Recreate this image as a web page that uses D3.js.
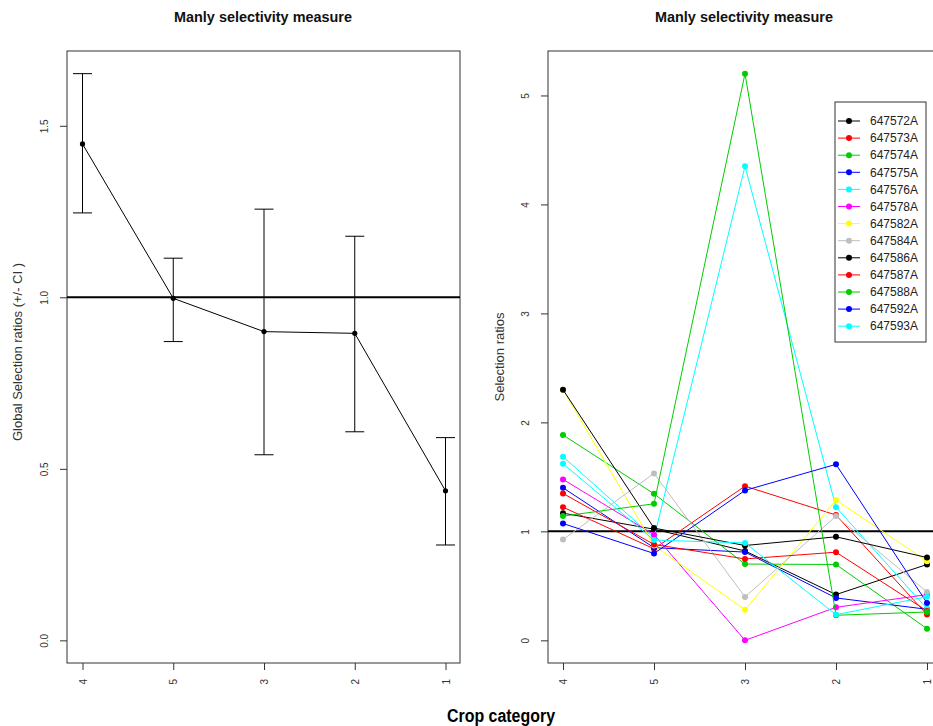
<!DOCTYPE html>
<html>
<head>
<meta charset="utf-8">
<script src="https://cdn.jsdelivr.net/npm/d3@7"></script>
<style>
  body { margin: 0; background: #fff; }
  svg { display: block; }
  text { font-family: "Liberation Sans", Arial, sans-serif; }
</style>
</head>
<body>
<svg id="chart" width="933" height="726"></svg>
<script>
// crop categories, in plotting order
const categories = ["4", "5", "3", "2", "1"];

// left panel: global selection ratios with CI
const globalMean = [1.447, 0.997, 0.900, 0.895, 0.436];
const globalLower = [1.246, 0.871, 0.541, 0.608, 0.278];
const globalUpper = [1.652, 1.114, 1.257, 1.178, 0.591];
const leftTicks = [0, 0.5, 1.0, 1.5];

// right panel: selection ratio per animal
const animals = ["647572A", "647573A", "647574A", "647575A", "647576A", "647578A", "647582A",
  "647584A", "647586A", "647587A", "647588A", "647592A", "647593A"];
const animalColors = ["#000000", "#ff0000", "#00cd00", "#0000ff", "#00ffff", "#ff00ff", "#ffff00",
  "#bebebe", "#000000", "#ff0000", "#00cd00", "#0000ff", "#00ffff"];
const s647572A = [1.167, 1.02, 0.82, 0.42, 0.696];
const s647573A = [1.222, 0.84, 1.415, 1.15, 0.236];
const s647574A = [1.884, 1.345, 0.70, 0.696, 0.107];
const s647575A = [1.40, 0.85, 0.81, 0.389, 0.285];
const s647576A = [1.685, 0.94, 4.35, 1.222, 0.29];
const s647578A = [1.477, 0.97, 0.0, 0.303, 0.42];
const s647582A = [2.30, 0.87, 0.28, 1.287, 0.726];
const s647584A = [0.925, 1.532, 0.398, 1.14, 0.444];
const s647586A = [2.30, 1.03, 0.87, 0.95, 0.76];
const s647587A = [1.348, 0.88, 0.747, 0.809, 0.27];
const s647588A = [1.14, 1.253, 5.2, 0.23, 0.26];
const s647592A = [1.072, 0.797, 1.376, 1.615, 0.343];
const s647593A = [1.62, 0.92, 0.894, 0.236, 0.40];
const rightTicks = [0, 1, 2, 3, 4, 5];

const seriesValues = [s647572A, s647573A, s647574A, s647575A, s647576A, s647578A, s647582A,
  s647584A, s647586A, s647587A, s647588A, s647592A, s647593A];

const svg = d3.select("#chart");
const plotTop = 51, plotBottom = 663;

function styleAxis(g) {
  g.select(".domain").remove();
  g.selectAll(".tick line").attr("stroke", "#333");
  g.selectAll(".tick text").attr("fill", "#333").attr("font-size", 10);
}

// ---------- left panel ----------
const lx = d3.scalePoint().domain(categories).range([82.5, 445.5]);
const ly = d3.scaleLinear().domain([-0.066, 1.718]).range([plotBottom, plotTop]);

svg.append("rect")
  .attr("x", 67).attr("y", plotTop).attr("width", 393).attr("height", plotBottom - plotTop)
  .attr("fill", "none").attr("stroke", "#333").attr("stroke-width", 1);

svg.append("g")
  .attr("transform", `translate(0,${plotBottom})`)
  .call(d3.axisBottom(lx).tickSize(7).tickPadding(10))
  .call(styleAxis)
  .selectAll(".tick text")
  .attr("transform", "rotate(-90)")
  .attr("x", -16).attr("y", 0).attr("dy", "0.35em")
  .attr("text-anchor", "end");

svg.append("g")
  .attr("transform", "translate(67,0)")
  .call(d3.axisLeft(ly).tickValues(leftTicks).tickFormat(d3.format(".1f")).tickSize(7))
  .call(styleAxis)
  .selectAll(".tick text")
  .attr("transform", "rotate(-90)")
  .attr("x", 0).attr("y", -19).attr("dy", 0)
  .attr("text-anchor", "middle");

svg.append("line")
  .attr("x1", 67).attr("x2", 460)
  .attr("y1", ly(1)).attr("y2", ly(1))
  .attr("stroke", "#000").attr("stroke-width", 2);

svg.append("path")
  .datum(globalMean)
  .attr("fill", "none").attr("stroke", "#000").attr("stroke-width", 1)
  .attr("d", d3.line().x((d, i) => lx(categories[i])).y(d => ly(d)));

const ci = svg.append("g").selectAll("g")
  .data(categories)
  .enter().append("g");
ci.append("line")
  .attr("x1", d => lx(d)).attr("x2", d => lx(d))
  .attr("y1", (d, i) => ly(globalLower[i])).attr("y2", (d, i) => ly(globalUpper[i]))
  .attr("stroke", "#000");
ci.append("line")
  .attr("x1", d => lx(d) - 9.5).attr("x2", d => lx(d) + 9.5)
  .attr("y1", (d, i) => ly(globalUpper[i])).attr("y2", (d, i) => ly(globalUpper[i]))
  .attr("stroke", "#000");
ci.append("line")
  .attr("x1", d => lx(d) - 9.5).attr("x2", d => lx(d) + 9.5)
  .attr("y1", (d, i) => ly(globalLower[i])).attr("y2", (d, i) => ly(globalLower[i]))
  .attr("stroke", "#000");
ci.append("circle")
  .attr("cx", d => lx(d)).attr("cy", (d, i) => ly(globalMean[i]))
  .attr("r", 2.6).attr("fill", "#000");

svg.append("text")
  .attr("x", 263).attr("y", 22)
  .attr("text-anchor", "middle").attr("font-weight", "bold").attr("font-size", 15)
  .attr("textLength", 178).attr("lengthAdjust", "spacingAndGlyphs")
  .attr("fill", "#111")
  .text("Manly selectivity measure");

svg.append("text")
  .attr("transform", "translate(22,352) rotate(-90)")
  .attr("text-anchor", "middle").attr("font-size", 13).attr("fill", "#333")
  .text("Global Selection ratios (+/- CI )");

// ---------- right panel ----------
const rx = d3.scalePoint().domain(categories).range([563, 927]);
const ry = d3.scaleLinear().domain([-0.208, 5.408]).range([plotBottom, plotTop]);

svg.append("rect")
  .attr("x", 548).attr("y", plotTop).attr("width", 394).attr("height", plotBottom - plotTop)
  .attr("fill", "none").attr("stroke", "#333").attr("stroke-width", 1);

svg.append("g")
  .attr("transform", `translate(0,${plotBottom})`)
  .call(d3.axisBottom(rx).tickSize(7).tickPadding(10))
  .call(styleAxis)
  .selectAll(".tick text")
  .attr("transform", "rotate(-90)")
  .attr("x", -16).attr("y", 0).attr("dy", "0.35em")
  .attr("text-anchor", "end");

svg.append("g")
  .attr("transform", "translate(548,0)")
  .call(d3.axisLeft(ry).tickValues(rightTicks).tickFormat(d3.format("d")).tickSize(7))
  .call(styleAxis)
  .selectAll(".tick text")
  .attr("transform", "rotate(-90)")
  .attr("x", 0).attr("y", -19).attr("dy", 0)
  .attr("text-anchor", "middle");

svg.append("line")
  .attr("x1", 548).attr("x2", 942)
  .attr("y1", ry(1)).attr("y2", ry(1))
  .attr("stroke", "#000").attr("stroke-width", 2);

const line = d3.line().x((d, i) => rx(categories[i])).y(d => ry(d));

const series = svg.append("g").selectAll("g")
  .data(seriesValues)
  .enter().append("g");
series.append("path")
  .attr("d", d => line(d))
  .attr("fill", "none")
  .attr("stroke", (d, i) => animalColors[i])
  .attr("stroke-width", 1);
series.selectAll("circle")
  .data((d, i) => d.map((v, j) => ({ v, j, c: animalColors[i] })))
  .enter().append("circle")
  .attr("cx", d => rx(categories[d.j]))
  .attr("cy", d => ry(d.v))
  .attr("r", 3)
  .attr("fill", d => d.c);

svg.append("text")
  .attr("x", 744).attr("y", 22)
  .attr("text-anchor", "middle").attr("font-weight", "bold").attr("font-size", 15)
  .attr("textLength", 178).attr("lengthAdjust", "spacingAndGlyphs")
  .attr("fill", "#111")
  .text("Manly selectivity measure");

svg.append("text")
  .attr("transform", "translate(504,357) rotate(-90)")
  .attr("text-anchor", "middle").attr("font-size", 13).attr("fill", "#333")
  .text("Selection ratios");

// legend
const legend = svg.append("g").attr("transform", "translate(835,102)");
legend.append("rect")
  .attr("width", 91).attr("height", 240)
  .attr("fill", "#fff").attr("stroke", "#333");
const items = legend.selectAll(".item")
  .data(animals)
  .enter().append("g")
  .attr("transform", (d, i) => `translate(0,${19 + i * 17.1})`);
items.append("line")
  .attr("x1", 3).attr("x2", 25)
  .attr("stroke", (d, i) => animalColors[i]);
items.append("circle")
  .attr("cx", 14).attr("r", 3)
  .attr("fill", (d, i) => animalColors[i]);
items.append("text")
  .attr("x", 35).attr("dy", "0.35em")
  .attr("font-size", 12).attr("fill", "#222")
  .text(d => d);

// shared x title
svg.append("text")
  .attr("x", 501).attr("y", 722)
  .attr("text-anchor", "middle").attr("font-weight", "bold").attr("font-size", 18)
  .attr("font-family", "Open Sans, sans-serif")
  .attr("textLength", 108).attr("lengthAdjust", "spacingAndGlyphs")
  .attr("fill", "#000")
  .text("Crop category");
</script>
</body>
</html>
